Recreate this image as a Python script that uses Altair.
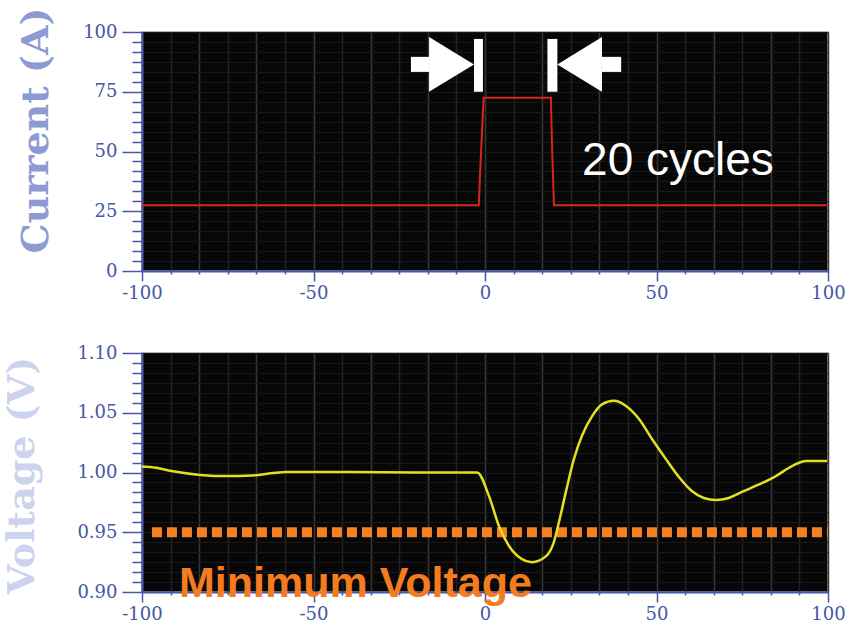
import altair as alt
import pandas as pd

# ---- data -------------------------------------------------------------
# Current step (A) versus time (cycles)
cur_t = [-100, -1.8, -1.4, -0.4, 19.2, 19.6, 20.1, 100]
cur_a = [27.5, 27.5, 42.0, 72.5, 72.5, 50.0, 27.5, 27.5]

# Voltage response (pu) versus time (cycles)
volt_t = [-100, -96, -91, -83, -75, -68, -62, -58, -40, -20, -2.3,
          1.2, 4.1, 7.0, 10.5, 13.7, 17.8, 20.1, 21.6, 23.6, 25.9, 28.3,
          31.2, 34.1, 37.6, 41.1, 44.9, 48.7, 52.8, 56.6, 60.3, 63.8,
          67.3, 71.1, 74.9, 79.9, 84.8, 89.5, 93.6, 98.8, 99.7]
volt_v = [1.005, 1.004, 1.001, 0.998, 0.997, 0.9975, 0.9995, 1.0005, 1.0005,
          1.000, 1.000,
          0.980, 0.955, 0.9385, 0.928, 0.925, 0.930, 0.942, 0.959, 0.984,
          1.011, 1.031, 1.047, 1.057, 1.060, 1.0557, 1.0448, 1.028, 1.011,
          0.996, 0.9845, 0.9787, 0.977, 0.9787, 0.9837, 0.990, 0.997,
          1.0054, 1.0096, 1.0096, 1.0096]

min_voltage = 0.95
min_line_t = [-97.1, 100]

# tick values (major every 50 / 25 / 0.05, six minor steps between)
x_ticks = [round(-100 + i * 50 / 6, 4) for i in range(25)]
cur_ticks = [round(i * 25 / 6, 4) for i in range(25)]
volt_ticks = [round(0.90 + i * 0.05 / 6, 5) for i in range(25)]

# bracket arrows marking the 20-cycle pulse
shaft_x = [[-21.6, -16.3], [34.1, 39.7]]
shaft_y = [83.3, 89.6]
head_x = [[-16.3, -3.2], [21.1, 34.1]]
head_lo = [[75.0, 86.4], [86.4, 75.0]]
head_hi = [[97.9, 86.4], [86.4, 97.9]]
bar_x = [[-3.2, -0.6], [18.2, 21.1]]
bar_y = [75.0, 97.1]

# ---- styling ------------------------------------------------------------
BLUE = "#4656a8"
LABEL_FONT = "DejaVu Serif"
W, H = 686, 239


def major(step):
    return f"abs(datum.value/{step} - round(datum.value/{step})) < 0.001"


def x_axis():
    return alt.Axis(
        values=x_ticks, tickCount=100, title=None, grid=True,
        gridColor={"condition": {"test": major(100 / 6), "value": "#383838"},
                   "value": "#222222"},
        gridWidth=1.5,
        domainColor=BLUE, domainWidth=2, tickColor=BLUE, tickWidth=1.5,
        tickSize={"condition": {"test": major(50), "value": 10}, "value": 3},
        labelExpr=f"{major(50)} ? '' + round(datum.value) : ''",
        labelFont=LABEL_FONT, labelFontSize=18, labelColor=BLUE,
        labelPadding=3, labelFlush=False, labelOverlap=False,
    )


def y_axis(step, title, fmt, title_color, title_x, title_y):
    return alt.Axis(
        values=step[0], tickCount=100, title=title, grid=True,
        gridColor="#181818", gridWidth=1,
        domainColor=BLUE, domainWidth=2, tickColor=BLUE, tickWidth=1.5,
        tickSize={"condition": {"test": major(step[1]), "value": 20},
                  "value": 10},
        labelExpr=f"{major(step[1])} ? format(datum.value, '{fmt}') : ''",
        labelFont=LABEL_FONT, labelFontSize=18, labelColor=BLUE,
        labelPadding=5, labelOverlap=False, labelFlush=False,
        titleFont=LABEL_FONT, titleFontWeight="bold", titleFontSize=38,
        titleColor=title_color, titleAngle=270, titleAlign="center",
        titleBaseline="alphabetic", titleX=title_x, titleY=title_y,
    )


xs = alt.Scale(domain=[-100, 100], nice=False, zero=False)

# ---- current panel --------------------------------------------------------
cur_df = pd.DataFrame({"t": cur_t, "a": cur_a})
ys_c = alt.Scale(domain=[0, 100], nice=False)

current = alt.Chart(cur_df).mark_line(color="#d8261c", strokeWidth=2).encode(
    x=alt.X("t:Q", scale=xs, axis=x_axis()),
    y=alt.Y("a:Q", scale=ys_c,
            axis=y_axis((cur_ticks, 25), "Current (A)", "d", "#8d9bd4", -95, 98)),
)

shafts = alt.Chart(pd.DataFrame({
    "x1": [s[0] for s in shaft_x], "x2": [s[1] for s in shaft_x],
    "y1": [shaft_y[0]] * 2, "y2": [shaft_y[1]] * 2,
})).mark_rect(color="white").encode(
    x=alt.X("x1:Q", scale=xs), x2="x2:Q",
    y=alt.Y("y1:Q", scale=ys_c), y2="y2:Q",
)

bars = alt.Chart(pd.DataFrame({
    "x1": [b[0] for b in bar_x], "x2": [b[1] for b in bar_x],
    "y1": [bar_y[0]] * 2, "y2": [bar_y[1]] * 2,
})).mark_rect(color="white").encode(
    x=alt.X("x1:Q", scale=xs), x2="x2:Q",
    y=alt.Y("y1:Q", scale=ys_c), y2="y2:Q",
)

head_rows = []
for k in range(2):
    for j in range(2):
        head_rows.append({"arrow": k, "x": head_x[k][j],
                          "lo": head_lo[k][j], "hi": head_hi[k][j]})
heads = alt.Chart(pd.DataFrame(head_rows)).mark_area(
    color="white", opacity=1
).encode(
    x=alt.X("x:Q", scale=xs), y=alt.Y("lo:Q", scale=ys_c), y2="hi:Q",
    detail="arrow:N",
)

cycles_label = alt.Chart(pd.DataFrame({"x": [28.3], "y": [40.2],
                                       "txt": ["20 cycles"]})).mark_text(
    align="left", baseline="alphabetic", font="Liberation Sans",
    fontSize=46, color="white",
).encode(x=alt.X("x:Q", scale=xs), y=alt.Y("y:Q", scale=ys_c), text="txt:N")

top = alt.layer(current, shafts, heads, bars, cycles_label).properties(
    width=W, height=H
)

# ---- voltage panel ------------------------------------------------------
volt_df = pd.DataFrame({"t": volt_t, "v": volt_v})
ys_v = alt.Scale(domain=[0.90, 1.10], nice=False, zero=False)

voltage = alt.Chart(volt_df).mark_line(
    color="#e4df22", strokeWidth=2.5, interpolate="monotone"
).encode(
    x=alt.X("t:Q", scale=xs, axis=x_axis()),
    y=alt.Y("v:Q", scale=ys_v,
            axis=y_axis((volt_ticks, 0.05), "Voltage (V)", ".2f", "#cbd3ee",
                        -109, 122)),
)

min_line = alt.Chart(pd.DataFrame({
    "x1": [min_line_t[0]], "x2": [min_line_t[1]], "v": [min_voltage]
})).mark_rule(color="#f58220", strokeWidth=10, strokeDash=[10, 5]).encode(
    x=alt.X("x1:Q", scale=xs), x2="x2:Q", y=alt.Y("v:Q", scale=ys_v),
)

min_label = alt.Chart(pd.DataFrame({"x": [-89.2], "y": [0.8958],
                                    "txt": ["Minimum Voltage"]})).mark_text(
    align="left", baseline="alphabetic", font="Liberation Sans",
    fontWeight="bold", fontSize=43, color="#f47c20",
).encode(x=alt.X("x:Q", scale=xs), y=alt.Y("y:Q", scale=ys_v), text="txt:N")

bottom = alt.layer(min_line, voltage, min_label).properties(width=W, height=H)

chart = alt.vconcat(top, bottom, spacing=82, bounds="flush").properties(
    padding={"left": 2, "top": 6, "right": 10, "bottom": 6},
    background="white",
).configure_view(
    fill="#070707", stroke="#9a9a9a", strokeWidth=1.5,
)

chart.save("out.html", embed_options={"renderer": "svg", "actions": False})
